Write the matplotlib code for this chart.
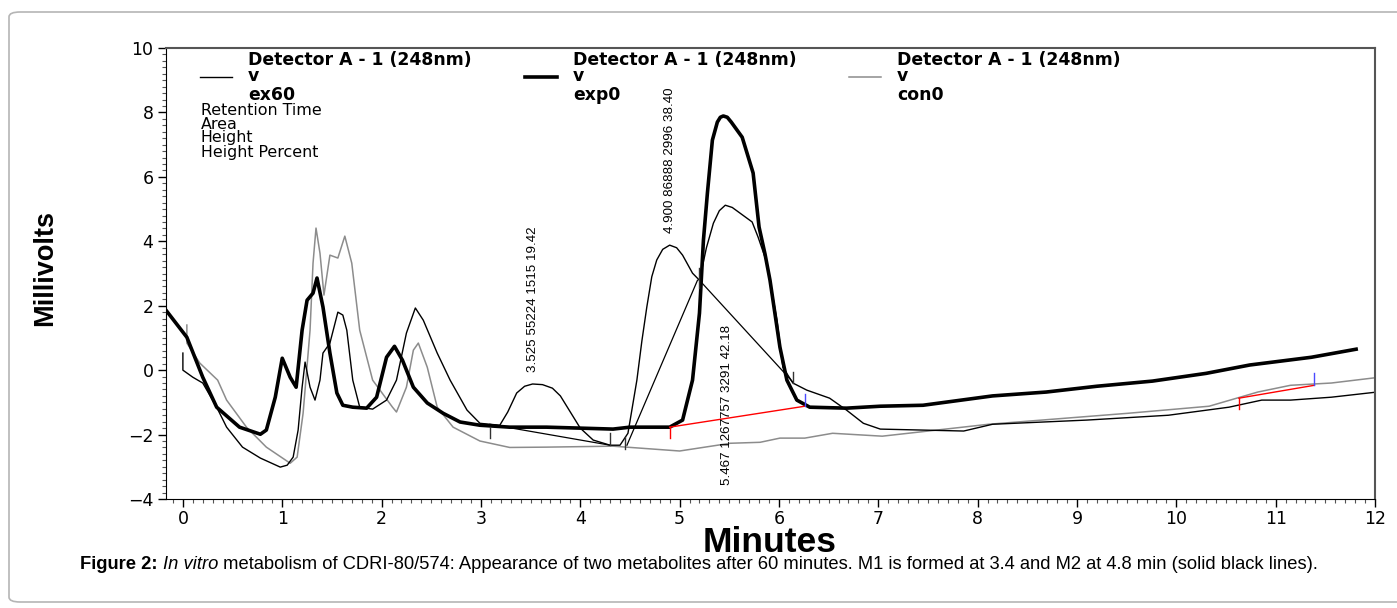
import matplotlib
matplotlib.use("Agg")
import matplotlib.pyplot as plt
from matplotlib.patches import FancyBboxPatch
from matplotlib.ticker import MultipleLocator

# --- chromatogram traces (minutes, millivolts) ---
# ex60 : thin black
ex60_t = [0.0, 0.0, 0.1, 0.2, 0.34, 0.44, 0.6, 0.78, 0.98, 1.05, 1.11, 1.16, 1.2, 1.23,
          1.28, 1.33, 1.38, 1.41, 1.48, 1.56, 1.61, 1.65, 1.71, 1.78, 1.91, 2.05, 2.15,
          2.25, 2.34, 2.42, 2.56, 2.69, 2.86, 2.99, 3.19, 3.27, 3.36, 3.44, 3.52, 3.62,
          3.72, 3.8, 3.87, 4.0, 4.13, 4.3, 4.4, 4.48, 4.57, 4.62, 4.67, 4.72, 4.77, 4.83,
          4.9, 4.97, 5.03, 5.13, 5.2, 5.27, 5.34, 5.4, 5.46, 5.53, 5.61, 5.73, 5.79, 5.88,
          5.98, 6.04, 6.14, 6.28, 6.51, 6.68, 6.85, 7.02, 7.86, 8.15, 9.1, 9.92, 10.53,
          10.86, 11.15, 11.56, 12.02]
ex60_mv = [0.53, 0.0, -0.22, -0.4, -1.15, -1.77, -2.39, -2.73, -3.01, -2.95, -2.7, -1.86,
           -0.53, 0.25, -0.53, -0.93, -0.31, 0.53, 0.84, 1.8, 1.71, 1.24, -0.31, -1.15,
           -1.21, -0.93, -0.31, 1.15, 1.93, 1.55, 0.53, -0.31, -1.24, -1.65, -1.71, -1.3,
           -0.71, -0.5, -0.43, -0.45, -0.56, -0.8, -1.15, -1.8, -2.17, -2.33, -2.33, -1.96,
           -0.31, 0.9, 1.96, 2.9, 3.42, 3.75, 3.88, 3.8, 3.57, 3.01, 2.79, 3.8, 4.56, 4.95,
           5.12, 5.05, 4.87, 4.6, 4.13, 3.32, 1.55, 0.09, -0.4, -0.62, -0.87, -1.24, -1.65,
           -1.83, -1.89, -1.68, -1.55, -1.4, -1.15, -0.93, -0.93, -0.84, -0.68]

# exp0 : thick black
exp0_t = [-0.17, 0.04, 0.2, 0.34, 0.57, 0.78, 0.84, 0.93, 1.0, 1.08, 1.14, 1.2, 1.25,
          1.31, 1.35, 1.41, 1.48, 1.55, 1.61, 1.71, 1.85, 1.95, 2.05, 2.13, 2.21, 2.32,
          2.46, 2.62, 2.79, 2.99, 3.29, 3.66, 4.0, 4.33, 4.5, 4.9, 5.03, 5.13, 5.2, 5.24,
          5.28, 5.33, 5.38, 5.41, 5.44, 5.48, 5.52, 5.63, 5.74, 5.8, 5.86, 5.91, 6.01,
          6.08, 6.18, 6.31, 6.68, 7.02, 7.45, 8.15, 8.69, 9.2, 9.76, 10.3, 10.74, 11.36,
          11.81]
exp0_mv = [1.86, 1.02, -0.22, -1.15, -1.77, -1.99, -1.86, -0.84, 0.37, -0.22, -0.53,
           1.24, 2.17, 2.39, 2.86, 1.96, 0.53, -0.71, -1.09, -1.15, -1.18, -0.84, 0.4,
           0.74, 0.31, -0.53, -1.02, -1.34, -1.61, -1.71, -1.77, -1.77, -1.8, -1.83,
           -1.77, -1.77, -1.55, -0.31, 1.77, 4.04, 5.5, 7.14, 7.7, 7.85, 7.89, 7.85, 7.7,
           7.23, 6.12, 4.44, 3.6, 2.79, 0.71, -0.31, -0.93, -1.15, -1.18, -1.12, -1.09,
           -0.8, -0.68, -0.5, -0.34, -0.1, 0.16, 0.4, 0.65]

# con0 : grey
con0_t = [0.04, 0.04, 0.17, 0.35, 0.44, 0.64, 0.84, 1.08, 1.15, 1.21, 1.28, 1.31, 1.34,
          1.38, 1.42, 1.48, 1.56, 1.63, 1.7, 1.78, 1.91, 2.11, 2.15, 2.25, 2.32, 2.37,
          2.46, 2.56, 2.72, 2.99, 3.29, 3.66, 4.33, 5.0, 5.51, 5.81, 6.01, 6.26, 6.54,
          7.04, 8.11, 9.51, 10.33, 10.82, 11.15, 11.56, 12.1]
con0_mv = [1.4, 0.84, 0.22, -0.31, -0.93, -1.77, -2.39, -2.89, -2.7, -1.34, 1.24, 3.32,
           4.41, 3.63, 2.33, 3.57, 3.48, 4.16, 3.32, 1.24, -0.31, -1.15, -1.3, -0.53,
           0.62, 0.84, 0.09, -1.15, -1.77, -2.2, -2.4, -2.39, -2.36, -2.51, -2.27, -2.24,
           -2.11, -2.11, -1.96, -2.05, -1.68, -1.34, -1.12, -0.68, -0.47, -0.4, -0.2]

# integration baselines of ex60 (thin black straight segments)
ex60_base = [[(3.09, -1.68), (4.3, -2.33)],
             [(4.47, -2.33), (5.18, 2.79)],
             [(5.2, 2.79), (6.14, -0.37)]]
ex60_marks = [(3.09, -1.77, -2.11), (4.3, -1.96, -2.33), (4.45, -2.08, -2.45),
              (5.2, 3.17, 2.55), (6.14, -0.06, -0.4)]
# red baselines with start (red) / end (blue) marks
red_base = [[(4.9, -1.77), (6.26, -1.12)], [(10.63, -0.87), (11.39, -0.47)]]
red_marks = [(4.9, -1.77, -2.11), (10.63, -0.87, -1.21)]
blue_marks = [(6.26, -1.12, -0.75), (11.39, -0.47, -0.09)]

peak_labels = ["3.525 55224 1515 19.42",
               "4.900 86888 2996 38.40",
               "5.467 1267757 3291 42.18"]
peak_anchor = [(3.52, -0.06), (4.9, 4.25), (5.48, -3.57)]

legend_names = ["ex60", "exp0", "con0"]
legend_title = "Detector A - 1 (248nm)"
info_rows = ["Retention Time", "Area", "Height", "Height Percent"]

W, H = 1397, 608
fig = plt.figure(figsize=(W / 100, H / 100), dpi=100)


def fxy(px, py):
    return px / W, 1 - py / H


ax = fig.add_axes([166 / W, 109 / H, 1209 / W, 451 / H])

ax.plot(con0_t, con0_mv, color="#8c8c8c", lw=1.1)
ax.plot(ex60_t, ex60_mv, color="black", lw=1.0)
ax.plot(exp0_t, exp0_mv, color="black", lw=2.6)

for seg in ex60_base:
    ax.plot([seg[0][0], seg[1][0]], [seg[0][1], seg[1][1]], color="black", lw=0.9)
for x, y0, y1 in ex60_marks:
    ax.plot([x, x], [y0, y1], color="#333333", lw=1.0)
for seg in red_base:
    ax.plot([seg[0][0], seg[1][0]], [seg[0][1], seg[1][1]], color="red", lw=1.0)
for x, y0, y1 in red_marks:
    ax.plot([x, x], [y0, y1], color="red", lw=1.0)
for x, y0, y1 in blue_marks:
    ax.plot([x, x], [y0, y1], color="#4a4aff", lw=1.0)

for lab, (x, y) in zip(peak_labels, peak_anchor):
    ax.text(x, y, lab, rotation=90, ha="center", va="bottom", fontsize=9.6,
            family="Liberation Sans")

ax.set_xlim(-0.17, 12.0)
ax.set_ylim(-4, 10)
ax.xaxis.set_major_locator(MultipleLocator(1))
ax.xaxis.set_minor_locator(MultipleLocator(0.1))
ax.yaxis.set_major_locator(MultipleLocator(2))
ax.yaxis.set_minor_locator(MultipleLocator(0.2))
ax.tick_params(which="major", direction="out", length=6, width=1, labelsize=12.5)
ax.tick_params(which="minor", direction="out", length=3, width=0.8, color="#555555")
ax.tick_params(axis="x", pad=2)
ax.tick_params(axis="y", pad=3)
for side in ["top", "right"]:
    ax.spines[side].set_color("#555555")
    ax.spines[side].set_linewidth(1.5)

# legend block
cols = [248, 573, 897]
styles = [dict(color="black", lw=1.0), dict(color="black", lw=2.6),
          dict(color="#8c8c8c", lw=1.1)]
for cx, name, st in zip(cols, legend_names, styles):
    fig.text(*fxy(cx, 65), legend_title, fontsize=12.4, weight="bold", va="baseline")
    fig.text(*fxy(cx, 81), "v", fontsize=12.4, weight="bold", va="baseline")
    fig.text(*fxy(cx, 100), name, fontsize=12.4, weight="bold", va="baseline")
    x0, y0 = fxy(cx - 48, 77)
    x1, _ = fxy(cx - 16, 77)
    fig.add_artist(plt.Line2D([x0, x1], [y0, y0], transform=fig.transFigure, **st))
for row, py in zip(info_rows, [115, 129, 142, 156.5]):
    fig.text(*fxy(201, py), row, fontsize=11.4, va="baseline")

fig.text(*fxy(45, 268), "Millivolts", rotation=90, ha="center", va="center",
         fontsize=19.5, weight="bold", family="Liberation Sans")
fig.text(*fxy(770, 552), "Minutes", ha="center", va="baseline",
         fontsize=25.5, weight="bold", family="Liberation Sans")

# outer frame
fig.add_artist(FancyBboxPatch(fxy(9, 602), 1400 / W, 590 / H,
                              boxstyle="round,pad=0,rounding_size=0.008",
                              transform=fig.transFigure, fill=False,
                              ec="#b5b5b5", lw=1.2))

# caption with mixed styles
fig.canvas.draw()
r = fig.canvas.get_renderer()
cx = 80
parts = [("Figure 2: ", dict(weight="bold")), ("In vitro", dict(style="italic")),
         (" metabolism of CDRI-80/574: Appearance of two metabolites after 60 minutes. "
          "M1 is formed at 3.4 and M2 at 4.8 min (solid black lines).", {})]
for txt, kw in parts:
    t = fig.text(*fxy(cx, 569), txt, va="baseline", ha="left", fontsize=13.2,
                 family="Liberation Sans", **kw)
    cx = t.get_window_extent(r).x1

fig.savefig("out.png", dpi=100)
